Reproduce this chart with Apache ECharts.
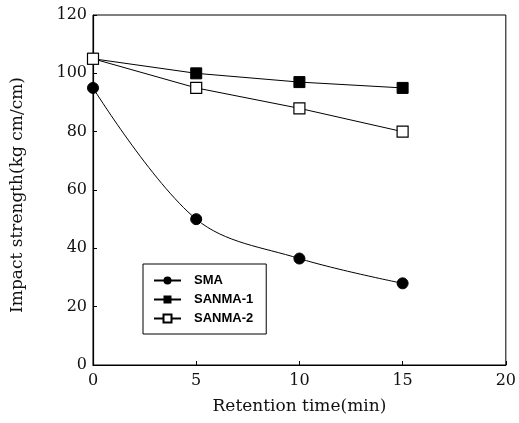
<!DOCTYPE html>
<html>
<head>
<meta charset="utf-8">
<script src="https://cdn.jsdelivr.net/npm/echarts@6/dist/echarts.min.js"></script>
<style>html,body{margin:0;padding:0;background:#fff;}#c{width:519px;height:423px;}</style>
</head>
<body>
<div id="c"></div>
<script>
var xTimes = [0, 5, 10, 15];
var smaValues = [95, 50, 36.5, 28];
var sanma1Values = [105, 100, 97, 95];
var sanma2Values = [105, 95, 88, 80];
var seriesNames = ['SMA', 'SANMA-1', 'SANMA-2'];
var xTicks = [0, 5, 10, 15, 20];
var yTicks = [0, 20, 40, 60, 80, 100, 120];

function pairs(xs, ys) { return xs.map(function (x, i) { return [x, ys[i]]; }); }

var chart = echarts.init(document.getElementById('c'), null, { renderer: 'canvas' });
var serif = 'DejaVu Serif';
var axisCommon = {
  axisLine: { show: true, lineStyle: { color: '#000', width: 1.2 } },
  axisTick: { show: true, inside: true, length: 4, lineStyle: { color: '#000' } },
  splitLine: { show: false },
  axisLabel: { color: '#111', fontFamily: serif, fontSize: 16 }
};
chart.setOption({
  animation: false,
  backgroundColor: '#fff',
  grid: { left: 93, right: 12, top: 15, bottom: 58, show: true, borderColor: '#000', borderWidth: 1, backgroundColor: 'transparent' },
  xAxis: Object.assign({}, axisCommon, {
    type: 'value', min: xTicks[0], max: xTicks[xTicks.length - 1], interval: 5,
    name: 'Retention time(min)', nameLocation: 'middle', nameGap: 33,
    nameTextStyle: { color: '#111', fontFamily: serif, fontSize: 17 },
    axisLabel: Object.assign({}, axisCommon.axisLabel, { margin: 8 })
  }),
  yAxis: Object.assign({}, axisCommon, {
    type: 'value', min: yTicks[0], max: yTicks[yTicks.length - 1], interval: 20,
    axisLabel: Object.assign({}, axisCommon.axisLabel, { margin: 6 })
  }),
  graphic: [{
    type: 'text', x: 18, y: 195, rotation: Math.PI / 2,
    style: { text: 'Impact strength(kg cm/cm)', fill: '#111', font: '17px "DejaVu Serif"', textAlign: 'center', textVerticalAlign: 'middle' }
  }],
  legend: {
    orient: 'vertical', left: 143, top: 264,
    padding: [10, 13, 9, 10], itemGap: 6, itemWidth: 27, itemHeight: 10,
    borderColor: '#000', borderWidth: 1, backgroundColor: '#fff',
    textStyle: { fontFamily: 'Liberation Sans', fontWeight: 'bold', fontSize: 13, color: '#000', padding: [0, 0, 0, 8] },
    data: seriesNames
  },
  series: [
    { name: seriesNames[0], type: 'line', data: pairs(xTimes, smaValues), smooth: 0.35,
      symbol: 'circle', symbolSize: 11, lineStyle: { color: '#000', width: 1 },
      itemStyle: { color: '#000', borderColor: '#000' } },
    { name: seriesNames[1], type: 'line', data: pairs(xTimes, sanma1Values),
      symbol: 'rect', symbolSize: 11, lineStyle: { color: '#000', width: 1 },
      itemStyle: { color: '#000', borderColor: '#000' } },
    { name: seriesNames[2], type: 'line', data: pairs(xTimes, sanma2Values),
      symbol: 'rect', symbolSize: 11, lineStyle: { color: '#000', width: 1 },
      itemStyle: { color: '#fff', borderColor: '#000', borderWidth: 1.2 } }
  ]
});
</script>
</body>
</html>
